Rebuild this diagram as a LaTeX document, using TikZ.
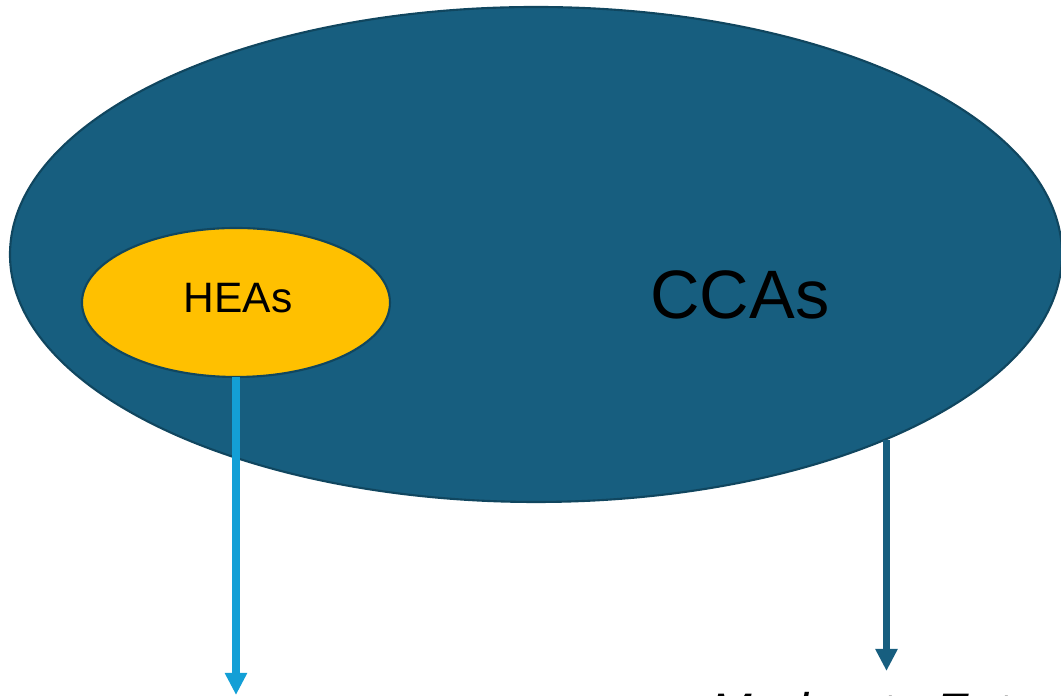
\documentclass[tikz,border=0pt]{standalone}
\usepackage{fontspec}
\setmainfont{Liberation Sans}
\usetikzlibrary{positioning,arrows.meta,shapes.geometric}
\definecolor{ccablue}{HTML}{175E7F}
\definecolor{ccaedge}{HTML}{10465F}
\definecolor{heayellow}{HTML}{FFC000}
\definecolor{heaarrow}{HTML}{139FD6}

\begin{document}
\begin{tikzpicture}
  [blob/.style={ellipse,draw=ccaedge,line width=0.6pt,inner sep=0pt,outer sep=0pt},
   tag/.style={inner sep=0pt,outer sep=0pt},
   link/.style={line width=2pt,-{Triangle[length=2.2mm,width=2.1mm]}}]
  \useasboundingbox (0,0) rectangle (10.61,6.96);
  \node[blob,fill=ccablue,minimum width=10.52cm,minimum height=4.95cm] (cca) at (5.36,4.415) {};
  \node[tag,font=\fontsize{19.5}{22}\selectfont] (ccatext) at (7.40,4.01) {CCAs};
  \node[blob,fill=heayellow,minimum width=3.08cm,minimum height=1.49cm] (hea) at (2.36,3.935) {};
  \node[tag,font=\fontsize{12.1}{14}\selectfont] (heatext) at (2.38,3.98) {HEAs};
  \coordinate (heatip) at (2.36,0.01);
  \coordinate (ccatip) at (8.865,0.25);
  \draw[link,heaarrow] (hea.south) -- (heatip);
  \draw[link,ccablue] (ccatip |- cca.-28) -- (ccatip);
  \node[tag,anchor=base west,font=\itshape\fontsize{14.2}{16}\selectfont] (mea) at (7.11,-0.33) {Moderate Entropy Alloys};
\end{tikzpicture}
\end{document}
